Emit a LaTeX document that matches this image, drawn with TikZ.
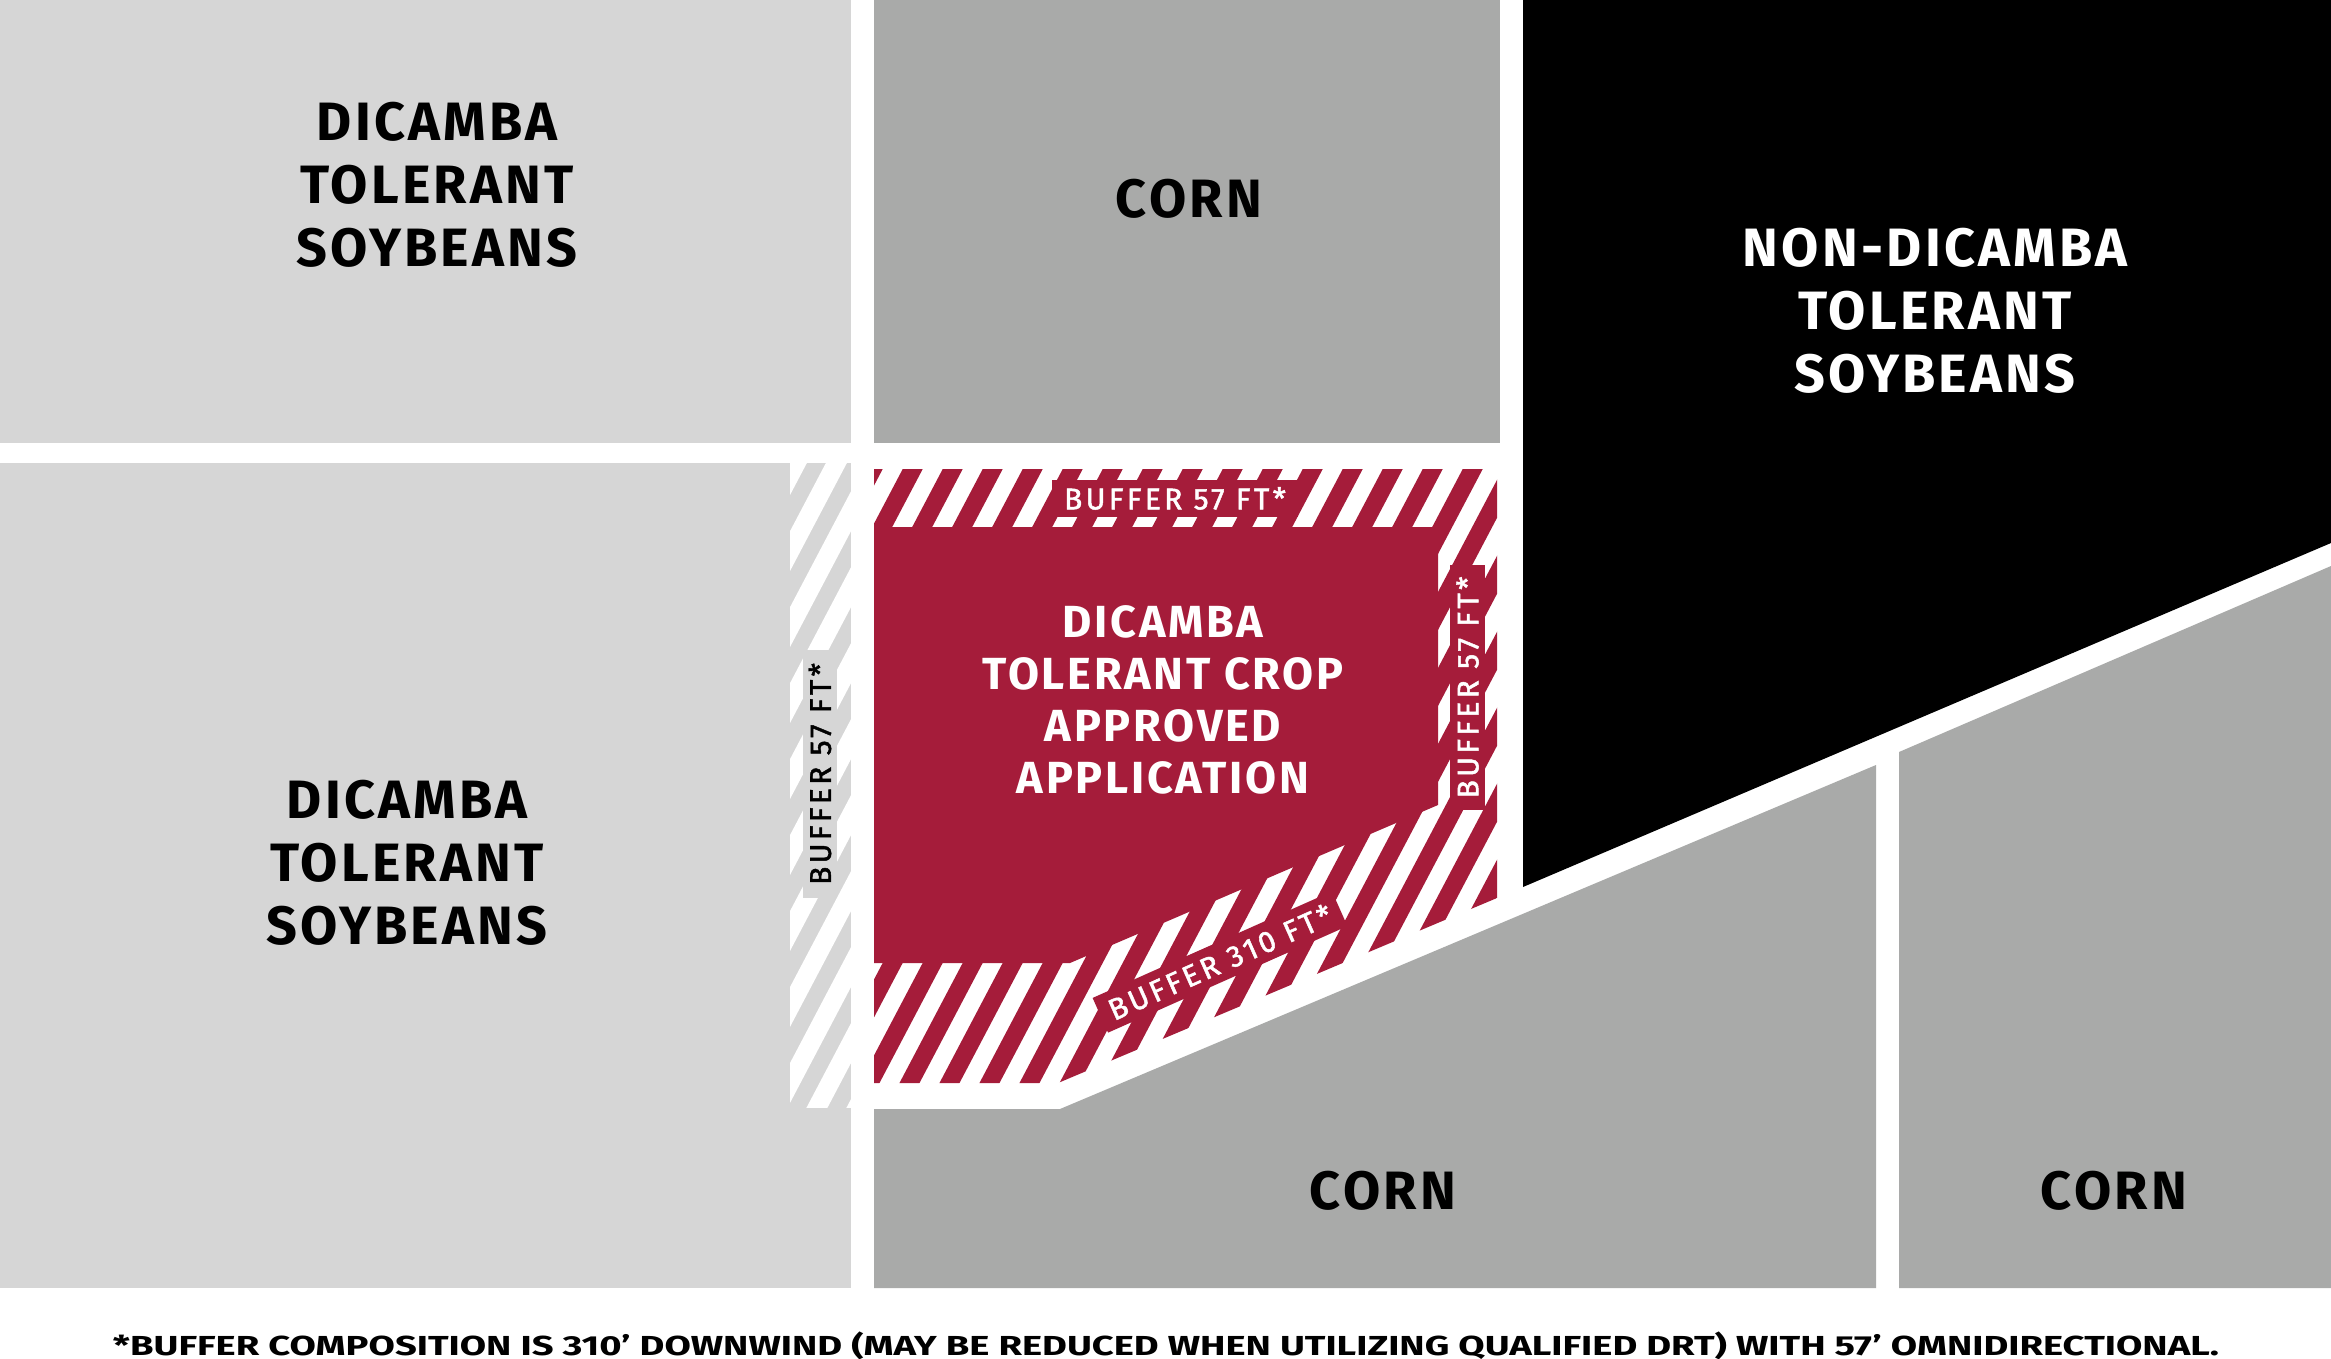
\documentclass[tikz,border=0pt]{standalone}
\usepackage{fontspec}
\setmainfont{Fira Sans}
\newfontfamily\lblfont[LetterSpace=6]{Fira Sans}
\newfontfamily\buffont[LetterSpace=11,FakeBold=1.6]{Fira Sans}
\newfontfamily\footfont{Fira Sans}
\definecolor{lgray}{HTML}{D6D6D6}
\definecolor{mgray}{HTML}{A9AAA9}
\definecolor{dred}{HTML}{A51C3A}
\tikzset{
  fieldtext/.style={align=center, inner sep=0pt, font=\lblfont\bfseries\fontsize{54}{63}\selectfont},
  croptext/.style={align=center, inner sep=0pt, text=white, font=\lblfont\bfseries\fontsize{45}{52}\selectfont},
  buflabel/.style={inner sep=0pt, font=\buffont\fontsize{30}{32}\selectfont},
  redlabel/.style={buflabel, fill=dred, text=white},
  graylabel/.style={buflabel, fill=lgray, text=black},
}
\begin{document}
\begin{tikzpicture}[x=1pt,y=-1pt]
\useasboundingbox (0,0) rectangle (2331,1359);
\fill[white] (0,0) rectangle (2331,1359);
% fields
\fill[lgray] (0,0) rectangle (851,443);
\fill[mgray] (874,0) rectangle (1500,443);
\fill[black] (1523,0) -- (2331,0) -- (2331,543) -- (1523,887) -- cycle;
\fill[lgray] (0,463) rectangle (851,1288);
\fill[mgray] (874,1109) -- (1060,1109) -- (1876,765) -- (1876,1288) -- (874,1288) -- cycle;
\fill[mgray] (1899,752) -- (2331,566) -- (2331,1288) -- (1899,1288) -- cycle;
% left striped buffer
\begin{scope}
  \clip (790,463) rectangle (851,1107);
  \foreach \a in {400,440,...,900} {
    \fill[white] (\a,1120) -- ++(21,0) -- ++(358,-680) -- ++(-21,0) -- cycle;
  }
\end{scope}
% red application area with striped buffer
\begin{scope}
  \clip (874,469) -- (1497,469) -- (1497,898) -- (1058,1083) -- (874,1083) -- cycle;
  \fill[white] (874,469) rectangle (1497,1083);
  \foreach \a in {480,520,...,1520} {
    \fill[dred] (\a,1120) -- ++(20,0) -- ++(358,-680) -- ++(-20,0) -- cycle;
  }
\end{scope}
\fill[dred] (874,527) -- (1438,527) -- (1438,805) -- (1070,963) -- (874,963) -- cycle;
% buffer labels
\node[redlabel, minimum width=246pt, minimum height=37pt] (btop) at (1175,498.5) {BUFFER 57 FT*};
\node[redlabel, rotate=90, minimum width=245pt, minimum height=35pt] (bright) at (1467.5,687.5) {BUFFER 57 FT*};
\node[graylabel, rotate=90, minimum width=248pt, minimum height=34pt] (bleft) at (820,774) {BUFFER 57 FT*};
\node[redlabel, rotate=24, minimum width=262pt, minimum height=38pt] (bdiag) at (1220,962) {BUFFER 310 FT*};
% field labels
\node[fieldtext] (tl) at (437,185) {DICAMBA\\TOLERANT\\SOYBEANS};
\node[fieldtext] (ml) at (407,863) {DICAMBA\\TOLERANT\\SOYBEANS};
\node[fieldtext] (tc) at (1189,199) {CORN};
\node[fieldtext, text=white] (nd) at (1935,311) {NON-DICAMBA\\TOLERANT\\SOYBEANS};
\node[fieldtext] (bc) at (1383,1191) {CORN};
\node[fieldtext] (br) at (2114,1191) {CORN};
\node[croptext] (crop) at (1163,700) {DICAMBA\\TOLERANT CROP\\APPROVED\\APPLICATION};
% footnote
\node[inner sep=0pt, anchor=base] (foot) at (1166,1355) {\resizebox{2106pt}{\height}{\footfont\bfseries\fontsize{27.5}{30}\selectfont *BUFFER COMPOSITION IS 310’ DOWNWIND (MAY BE REDUCED WHEN UTILIZING QUALIFIED DRT) WITH 57’ OMNIDIRECTIONAL.}};
\end{tikzpicture}
\end{document}
